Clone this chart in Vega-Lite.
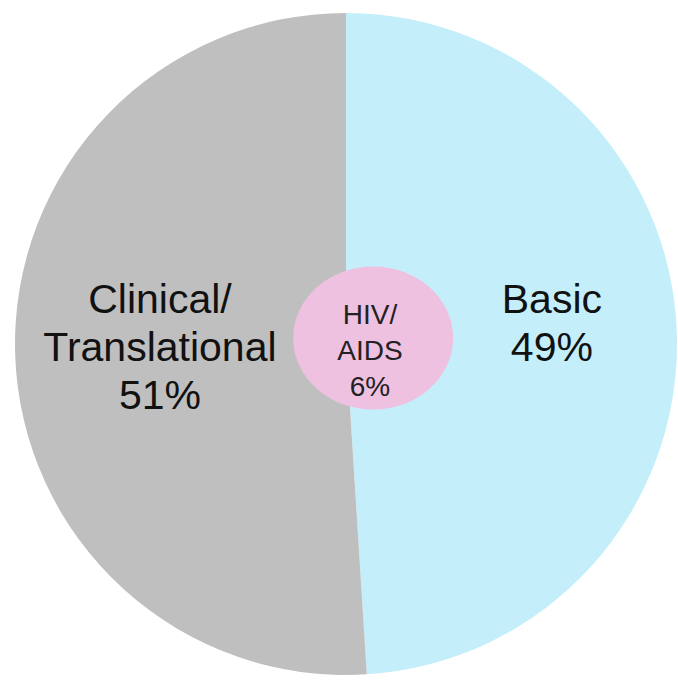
{
  "$schema": "https://vega.github.io/schema/vega-lite/v6.json",
  "width": 678,
  "height": 684,
  "autosize": {"type": "fit", "contains": "padding"},
  "padding": {"left": 15, "right": 1, "top": 12, "bottom": 8},
  "background": "white",
  "config": {"view": {"stroke": null}, "font": "Liberation Sans"},
  "datasets": {
    "slices": [
      {"category": "Basic", "value": 49},
      {"category": "Clinical/Translational", "value": 51}
    ],
    "bubble": [
      {"category": "HIV/AIDS", "value": 6, "x": 0.082, "y": 0.018}
    ],
    "labels": [
      {"label": "Basic|49%", "x": 0.622, "y": 0.13, "group": "slice"},
      {"label": "Clinical/|Translational|51%", "x": -0.562, "y": 0.13, "group": "slice"},
      {"label": "HIV/|AIDS|6%", "x": 0.0725, "y": 0.083, "group": "bubble"}
    ]
  },
  "layer": [
    {
      "data": {"name": "slices"},
      "mark": {"type": "arc", "stroke": null},
      "encoding": {
        "theta": {"field": "value", "type": "quantitative"},
        "color": {
          "field": "category",
          "type": "nominal",
          "scale": {"domain": ["Basic", "Clinical/Translational"], "range": ["#C5EEFB", "#BFBFBF"]},
          "legend": null
        }
      }
    },
    {
      "data": {"name": "bubble"},
      "mark": {
        "type": "point",
        "filled": true,
        "opacity": 1,
        "shape": "M -1 0 A 1 0.894 0 1 0 1 0 A 1 0.894 0 1 0 -1 0 Z",
        "size": 25600,
        "color": "#EEC1E0",
        "strokeWidth": 0
      },
      "encoding": {
        "x": {"field": "x", "type": "quantitative", "scale": {"domain": [-1, 1]}, "axis": null},
        "y": {"field": "y", "type": "quantitative", "scale": {"domain": [-1, 1]}, "axis": null}
      }
    },
    {
      "data": {"name": "labels"},
      "transform": [{"filter": "datum.group === 'slice'"}],
      "mark": {"type": "text", "fontSize": 41, "lineHeight": 48, "lineBreak": "|", "align": "center", "baseline": "middle", "color": "#111111"},
      "encoding": {
        "x": {"field": "x", "type": "quantitative", "scale": {"domain": [-1, 1]}, "axis": null},
        "y": {"field": "y", "type": "quantitative", "scale": {"domain": [-1, 1]}, "axis": null},
        "text": {"field": "label"}
      }
    },
    {
      "data": {"name": "labels"},
      "transform": [{"filter": "datum.group === 'bubble'"}],
      "mark": {"type": "text", "fontSize": 28, "lineHeight": 36, "lineBreak": "|", "align": "center", "baseline": "middle", "color": "#222222"},
      "encoding": {
        "x": {"field": "x", "type": "quantitative", "scale": {"domain": [-1, 1]}, "axis": null},
        "y": {"field": "y", "type": "quantitative", "scale": {"domain": [-1, 1]}, "axis": null},
        "text": {"field": "label"}
      }
    }
  ]
}
